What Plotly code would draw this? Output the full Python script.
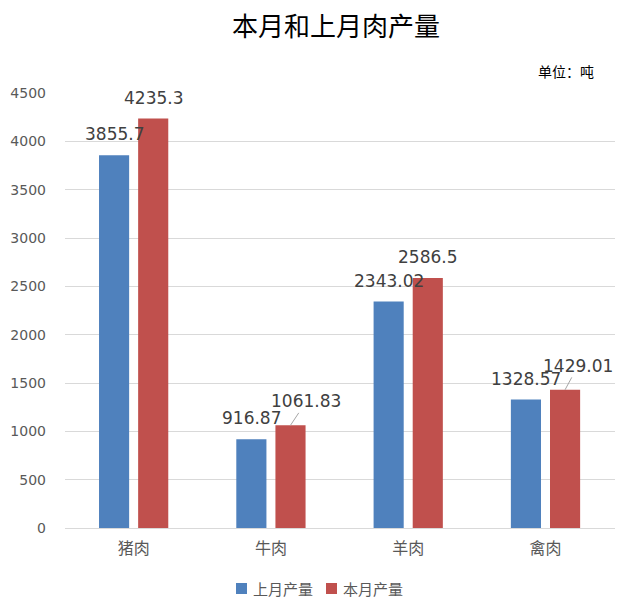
import plotly.graph_objects as go

categories = ["猪肉", "牛肉", "羊肉", "禽肉"]
last_month = [3855.7, 916.87, 2343.02, 1328.57]
this_month = [4235.3, 1061.83, 2586.5, 1429.01]
last_labels = ["3855.7", "916.87", "2343.02", "1328.57"]
this_labels = ["4235.3", "1061.83", "2586.5", "1429.01"]
series_names = ["上月产量", "本月产量"]
y_ticks = [0, 500, 1000, 1500, 2000, 2500, 3000, 3500, 4000, 4500]

BLUE = "#4F81BD"
RED = "#C0504D"
NUM_FONT = "DejaVu Sans, Noto Sans CJK SC"
CJK_FONT = "Noto Sans CJK SC, DejaVu Sans"

W, H = 632, 600
ML, MR, MT, MB = 65, 17, 93, 72
plot_w = W - ML - MR
plot_h = H - MT - MB


def px_x(px):
    return (px - ML) / plot_w


def px_y(py):
    return (H - MB - py) / plot_h


fig = go.Figure()
fig.add_trace(go.Bar(name=series_names[0], x=categories, y=last_month, marker_color=BLUE,
                     marker_line_width=0, showlegend=False))
fig.add_trace(go.Bar(name=series_names[1], x=categories, y=this_month, marker_color=RED,
                     marker_line_width=0, showlegend=False))

annotations = []
off = 19.5
for c, v, t in zip(categories, last_month, last_labels):
    annotations.append(dict(x=c, y=v, xref="x", yref="y", text=t, showarrow=False,
                            xshift=-off, yshift=21, yanchor="middle",
                            font=dict(family=NUM_FONT, size=17, color="#404040")))
leader = {"牛肉": (16, -24), "禽肉": (13, -24)}
for c, v, t in zip(categories, this_month, this_labels):
    if c in leader:
        ax, ay = leader[c]
        annotations.append(dict(x=c, y=v, xref="x", yref="y", text=t, showarrow=True,
                                arrowhead=0, arrowwidth=1, arrowcolor="#A6A6A6",
                                ax=ax, ay=ay, xshift=off, standoff=0,
                                font=dict(family=NUM_FONT, size=17, color="#404040")))
    else:
        annotations.append(dict(x=c, y=v, xref="x", yref="y", text=t, showarrow=False,
                                xshift=off, yshift=21, yanchor="middle",
                                font=dict(family=NUM_FONT, size=17, color="#404040")))

annotations.append(dict(x=px_x(596), y=px_y(71), xref="paper", yref="paper",
                        text="单位：吨", showarrow=False, xanchor="right", yanchor="middle",
                        font=dict(family=CJK_FONT, size=14, color="#000000")))

# custom legend: squares + text
shapes = []
legend_items = [(series_names[0], BLUE, 236), (series_names[1], RED, 326)]
for name, col, sx in legend_items:
    shapes.append(dict(type="rect", xref="paper", yref="paper",
                       x0=px_x(sx), x1=px_x(sx + 11), y0=px_y(594), y1=px_y(583),
                       fillcolor=col, line_width=0))
    annotations.append(dict(x=px_x(sx + 16), y=px_y(588), xref="paper", yref="paper",
                            text=name, showarrow=False, xanchor="left", yanchor="middle",
                            borderpad=0,
                            font=dict(family=CJK_FONT, size=15, color="#595959")))

fig.update_layout(
    width=W, height=H,
    margin=dict(l=ML, r=MR, t=MT, b=MB, autoexpand=False),
    paper_bgcolor="white", plot_bgcolor="white",
    title=dict(text="本月和上月肉产量", x=px_x(336), xref="paper",
               xanchor="center", y=1 - 27 / H,
               yanchor="middle", font=dict(family=CJK_FONT, size=26, color="#000000")),
    barmode="group", bargap=0.43, bargroupgap=0.23,
    showlegend=False,
    xaxis=dict(showgrid=False, showline=True, linecolor="#D9D9D9", linewidth=1,
               ticks="", ticklabelstandoff=6,
               tickfont=dict(family=CJK_FONT, size=16, color="#595959")),
    yaxis=dict(range=[0, 4500], tickvals=y_ticks, showgrid=True, gridcolor="#D9D9D9",
               gridwidth=1, zeroline=False, showline=False, ticks="",
               ticklabelstandoff=18,
               tickfont=dict(family=NUM_FONT, size=14, color="#595959")),
    annotations=annotations,
    shapes=shapes,
)

fig.write_html("out.html")
